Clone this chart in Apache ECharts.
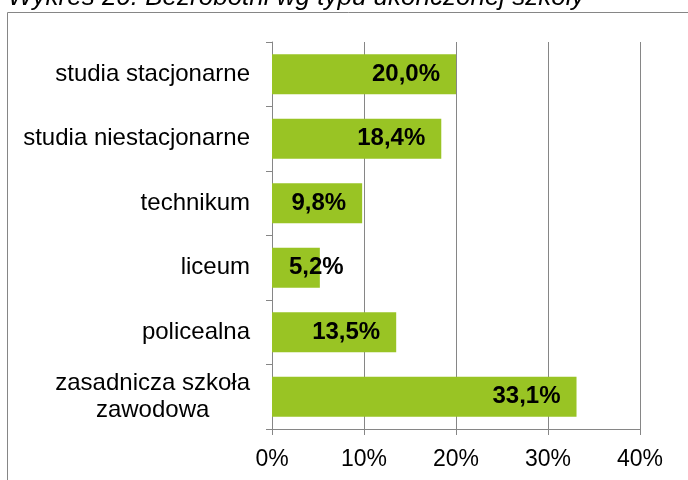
<!DOCTYPE html>
<html>
<head>
<meta charset="utf-8">
<script src="https://cdn.jsdelivr.net/npm/echarts@6/dist/echarts.min.js"></script>
<style>
  html, body { margin: 0; padding: 0; background: #fff; }
  #chart { width: 688px; height: 480px; }
</style>
</head>
<body>
<div id="chart"></div>
<script>
// dane z wykresu
var categories = ['studia stacjonarne', 'studia niestacjonarne', 'technikum', 'liceum', 'policealna', 'zasadnicza szkoła\nzawodowa'];
var values = [20.0, 18.4, 9.8, 5.2, 13.5, 33.1];
var axisMin = 0, axisMax = 40, axisStep = 10;

var FONT = '"Liberation Sans", Arial, sans-serif';
var GRAY = '#868686';

function pct(v) {
    return v.toFixed(1).replace('.', ',') + '%';
}

// krótkie słupki: etykieta od lewej krawędzi (jak w Excelu)
var barData = values.map(function (v) {
    var item = { value: v };
    if (v < 8) {
        item.label = { position: 'insideLeft', distance: 17 };
    }
    return item;
});

var chart = echarts.init(document.getElementById('chart'));
chart.setOption({
    animation: false,
    textStyle: { fontFamily: FONT },
    graphic: [
        {
            type: 'rect',
            shape: { x: 7.5, y: 12.5, width: 720, height: 520 },
            style: { fill: 'none', stroke: GRAY, lineWidth: 1 },
            silent: true
        },
        {
            type: 'text',
            left: 8,
            top: -15,
            style: {
                text: 'Wykres 20. Bezrobotni wg typu ukończonej szkoły',
                font: 'italic 26px ' + FONT,
                fill: '#000'
            }
        }
    ],
    grid: { left: 272, right: 48, top: 42, bottom: 51, containLabel: false },
    xAxis: {
        type: 'value',
        min: axisMin,
        max: axisMax,
        interval: axisStep,
        axisLine: { show: true, lineStyle: { color: GRAY, width: 1 } },
        axisTick: { show: true, length: 6, lineStyle: { color: GRAY } },
        splitLine: { show: true, lineStyle: { color: GRAY, width: 1 } },
        axisLabel: {
            formatter: '{value}%',
            color: '#000',
            fontSize: 23,
            margin: 19,
            fontFamily: FONT
        }
    },
    yAxis: {
        type: 'category',
        inverse: true,
        data: categories,
        axisLine: { show: true, lineStyle: { color: GRAY, width: 1 } },
        axisTick: { show: true, length: 6, lineStyle: { color: GRAY } },
        axisLabel: {
            color: '#000',
            fontSize: 24,
            margin: 22,
            lineHeight: 27,
            fontFamily: FONT,
            formatter: function (v) {
                return v.split('\n').map(function (s) { return '{c|' + s + '}'; }).join('\n');
            },
            rich: { c: { align: 'center', fontSize: 24, lineHeight: 27, color: '#000', fontFamily: FONT } }
        }
    },
    series: [{
        type: 'bar',
        data: barData,
        barCategoryGap: '38%',
        itemStyle: { color: '#99C424' },
        label: {
            show: true,
            position: 'insideRight',
            distance: 16,
            color: '#000',
            fontWeight: 'bold',
            fontSize: 24,
            fontFamily: FONT,
            formatter: function (p) { return pct(p.value); }
        }
    }]
});
</script>
</body>
</html>
